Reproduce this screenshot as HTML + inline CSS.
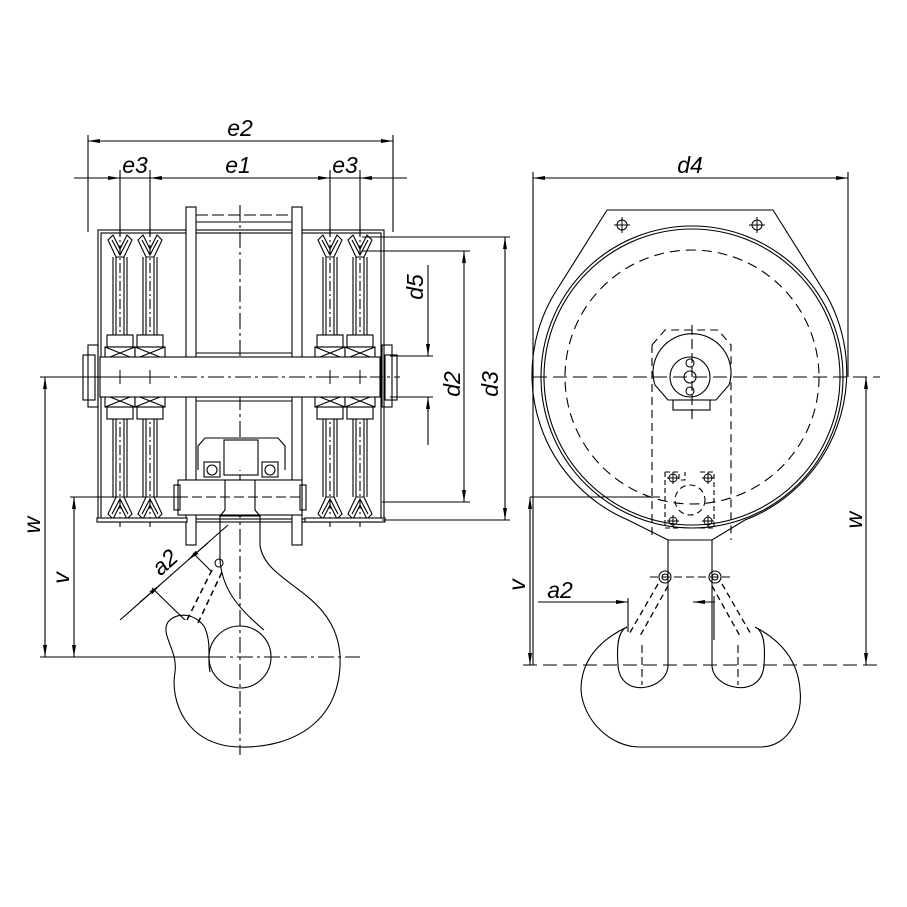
<!DOCTYPE html>
<html><head><meta charset="utf-8"><style>html,body{margin:0;padding:0;background:#fff}svg{display:block}</style></head><body>
<svg width="907" height="907" viewBox="0 0 907 907" xmlns="http://www.w3.org/2000/svg">
<defs>
<marker id="a" viewBox="0 0 12 4" refX="12" refY="2" markerWidth="12" markerHeight="4" orient="auto-start-reverse" markerUnits="userSpaceOnUse"><path d="M0,0L12,2L0,4z" fill="#000"/></marker>
<g id="sh">
 <path d="M-12,3 L-7,-2 L0,12 L7,-2 L12,3 L4,20 L-4,20 Z" fill="none"/>
 <path d="M-8,3 L0,18 L8,3" fill="none"/>
 <line x1="-7" y1="20" x2="-7" y2="98"/><line x1="7" y1="20" x2="7" y2="98"/>
 <line x1="-4" y1="20" x2="-4" y2="98"/><line x1="4" y1="20" x2="4" y2="98"/>
 <line x1="0" y1="-10" x2="0" y2="96" stroke-dasharray="10,3,2,3"/>
 <rect x="-13" y="98" width="26" height="12" fill="#fff"/>
 <rect x="-15" y="110" width="30" height="12" fill="#fff"/>
 <path d="M-15,110 L15,122 M15,110 L-15,122" fill="none"/>
</g>
</defs>
<g stroke="#000" stroke-width="1.1" fill="none">
<line x1="240" y1="205" x2="240" y2="755" stroke-dasharray="16,4,3,4"/>
<line x1="70" y1="377" x2="400" y2="377" stroke-dasharray="16,4,3,4"/>
<rect x="98" y="230" width="286" height="292"/>
<rect x="101" y="233" width="280" height="286"/>
<rect x="186" y="207" width="10" height="338" fill="#fff"/>
<rect x="292" y="207" width="10" height="338" fill="#fff"/>
<line x1="196" y1="215" x2="292" y2="215" stroke-dasharray="12,4"/>
<line x1="196" y1="222" x2="292" y2="222"/>
<line x1="196" y1="353" x2="292" y2="353"/>
<line x1="196" y1="401" x2="292" y2="401"/>
<rect x="83" y="355" width="12" height="45"/><rect x="385" y="355" width="12" height="45"/>
<rect x="88" y="345" width="10" height="62"/><rect x="382" y="345" width="10" height="62"/>
<g fill="#fff">
<use href="#sh" transform="translate(120,237)"/><use href="#sh" transform="translate(150,237)"/>
<use href="#sh" transform="translate(330,237)"/><use href="#sh" transform="translate(360,237)"/>
<use href="#sh" transform="translate(120,517) scale(1,-1)"/><use href="#sh" transform="translate(150,517) scale(1,-1)"/>
<use href="#sh" transform="translate(330,517) scale(1,-1)"/><use href="#sh" transform="translate(360,517) scale(1,-1)"/>
</g>
<rect x="100" y="357" width="280" height="40" fill="#fff"/>
<line x1="100" y1="377" x2="380" y2="377" stroke-dasharray="16,4,3,4"/>
<g stroke-width="1"><path d="M113,377h14M120,370v14M143,377h14M150,370v14M323,377h14M330,370v14M353,377h14M360,370v14"/></g>
<rect x="97" y="518" width="90" height="4" fill="#fff"/><rect x="305" y="518" width="80" height="4" fill="#fff"/>
<path d="M198,470 L198,446 L205,438 L278,438 L285,446 L285,470" fill="#fff"/>
<rect x="224" y="440" width="34" height="35"/>
<rect x="204" y="462" width="16" height="15"/><circle cx="212" cy="470" r="5"/>
<rect x="262" y="462" width="16" height="15"/><circle cx="270" cy="470" r="5"/>
<rect x="178" y="480" width="124" height="35" fill="#fff"/>
<rect x="174" y="485" width="6" height="25"/><rect x="300" y="485" width="6" height="25"/>
<path d="M225,480 L225,510 L220,516 L260,516 L255,510 L255,480"/>
<line x1="178" y1="497" x2="302" y2="497" stroke-dasharray="10,4"/>
<path d="M260,516 L260,545 C265,585 335,590 340,655 C343,720 295,748 240,747 C185,746 170,700 175,672 C178,650 160,635 168,622 C178,610 198,615 205,628 C212,645 207,660 210,672"/>
<path d="M220,516 L220,560 C222,590 240,610 264,630"/>
<circle cx="240" cy="657" r="31"/>
<line x1="210" y1="657" x2="360" y2="657" stroke-dasharray="16,4,3,4"/>
<path d="M198,623 L222,572 M187,620 L213,568" stroke-dasharray="6,4" stroke-width="1.5"/>
<circle cx="219" cy="563" r="4"/>
<line x1="88" y1="135" x2="88" y2="232"/><line x1="393" y1="135" x2="393" y2="232"/>
<line x1="88" y1="141" x2="393" y2="141" marker-start="url(#a)" marker-end="url(#a)"/>
<line x1="74" y1="178" x2="407" y2="178"/>
<line x1="97" y1="178" x2="120" y2="178" marker-end="url(#a)"/>
<line x1="173" y1="178" x2="150" y2="178" marker-end="url(#a)"/>
<line x1="307" y1="178" x2="330" y2="178" marker-end="url(#a)"/>
<line x1="383" y1="178" x2="360" y2="178" marker-end="url(#a)"/>
<path d="M120,170V237M150,170V237M330,170V237M360,170V237"/>
<path d="M362,237H510M362,251H470M390,356H433M390,397H433M382,502H470M382,520H510"/>
<line x1="428" y1="265" x2="428" y2="356" marker-end="url(#a)"/>
<line x1="428" y1="445" x2="428" y2="397" marker-end="url(#a)"/>
<line x1="464" y1="251" x2="464" y2="502" marker-start="url(#a)" marker-end="url(#a)"/>
<line x1="505" y1="237" x2="505" y2="520" marker-start="url(#a)" marker-end="url(#a)"/>
<path d="M40,377H100M70,497H185M40,657H210"/>
<line x1="45" y1="377" x2="45" y2="657" marker-start="url(#a)" marker-end="url(#a)"/>
<line x1="74" y1="497" x2="74" y2="657" marker-start="url(#a)" marker-end="url(#a)"/>
<line x1="120" y1="620" x2="228" y2="525"/>
<line x1="140" y1="602" x2="160" y2="585" marker-end="url(#a)"/>
<line x1="188" y1="560" x2="208" y2="543" marker-start="url(#a)"/>
<path d="M152,588L185,620M193,553L212,572"/>

<path d="M607,210 L773,210 L827,296 A158,158 0 0 1 745,520 L712,540 L668,540 L628,520 A158,158 0 0 1 553,296 Z" fill="#fff"/>
<circle cx="692" cy="377" r="151"/><circle cx="692" cy="377" r="148"/>
<circle cx="692" cy="377" r="127" stroke-dasharray="10,6"/>
<path d="M652,345 L665,330 L718,330 L731,345 L731,540 M652,345 L652,540" stroke-dasharray="8,5"/>
<path d="M668,400 L655,385 A39,39 0 1 1 729,385 L716,400 Z" fill="#fff"/>
<rect x="673" y="400" width="37" height="10"/>
<circle cx="690" cy="377" r="20"/><circle cx="690" cy="377" r="6"/>
<circle cx="690" cy="363" r="4"/><circle cx="690" cy="391" r="4"/>
<circle cx="690" cy="500" r="15" stroke-dasharray="6,4"/>
<path d="M665,472h14v8h6v-8M700,472h14v56M665,472v56h14M700,528h14" stroke-dasharray="5,3"/>
<g stroke-width="1"><circle cx="622" cy="225" r="5"/><path d="M614,225h16M622,217v16"/><circle cx="757" cy="225" r="5"/><path d="M749,225h16M757,217v16"/>
<circle cx="673" cy="478" r="4"/><path d="M667,478h12M673,472v12"/><circle cx="708" cy="478" r="4"/><path d="M702,478h12M708,472v12"/>
<circle cx="673" cy="521" r="4"/><path d="M667,521h12M673,515v12"/><circle cx="708" cy="521" r="4"/><path d="M702,521h12M708,515v12"/></g>
<line x1="533" y1="377" x2="880" y2="377" stroke-dasharray="14,6"/>
<line x1="692" y1="325" x2="692" y2="420" stroke-dasharray="10,4"/>
<path d="M668,540 V665 C668,690 620,700 618,665 C616,640 620,630 627,627 C600,640 581,660 581,690 C583,720 610,747 640,747 L760,747 C790,747 803,715 800,690 C798,660 780,640 755,627 C762,630 766,640 764,665 C762,700 712,690 712,665 V540"/>
<circle cx="665" cy="577" r="6"/><circle cx="665" cy="577" r="3"/>
<circle cx="715" cy="577" r="6"/><circle cx="715" cy="577" r="3"/>
<path d="M658,584 L628,636 M668,586 L640,636 M722,584 L752,636 M712,586 L740,636" stroke-dasharray="6,4" stroke-width="1.3"/>
<line x1="650" y1="577" x2="730" y2="577" stroke-dasharray="8,4"/>
<path d="M642,645v40M738,645v40" stroke-dasharray="8,4"/>
<line x1="523" y1="665" x2="880" y2="665" stroke-dasharray="14,6"/>
<path d="M533,172V665M848,172V377"/>
<line x1="533" y1="178" x2="848" y2="178" marker-start="url(#a)" marker-end="url(#a)"/>
<line x1="866" y1="377" x2="866" y2="665" marker-start="url(#a)" marker-end="url(#a)"/>
<line x1="530" y1="497" x2="530" y2="665" marker-start="url(#a)" marker-end="url(#a)"/>
<path d="M530,497H660"/>
<line x1="538" y1="602" x2="628" y2="602" marker-end="url(#a)"/>
<line x1="715" y1="602" x2="693" y2="602" marker-end="url(#a)"/>
<path d="M628,598V632M714,596V640"/>
</g>
<g font-family="Liberation Sans, sans-serif" font-style="italic" font-size="23" fill="#000" text-anchor="middle" font-weight="normal">
<text x="240" y="136">e2</text>
<text x="135" y="173">e3</text>
<text x="238" y="173">e1</text><text x="345" y="173">e3</text>
<text x="690" y="173">d4</text>
<text transform="translate(423,287) rotate(-90)">d5</text>
<text transform="translate(460,384) rotate(-90)">d2</text>
<text transform="translate(498,384) rotate(-90)">d3</text>
<text transform="translate(40,525) rotate(-90)">w</text>
<text transform="translate(69,578) rotate(-90)">v</text>
<text transform="translate(862,520) rotate(-90)">w</text>
<text transform="translate(525,585) rotate(-90)">v</text>
<text x="560" y="598">a2</text>
<text transform="translate(170,568) rotate(-42)">a2</text>
</g>
</svg>
</body></html>
